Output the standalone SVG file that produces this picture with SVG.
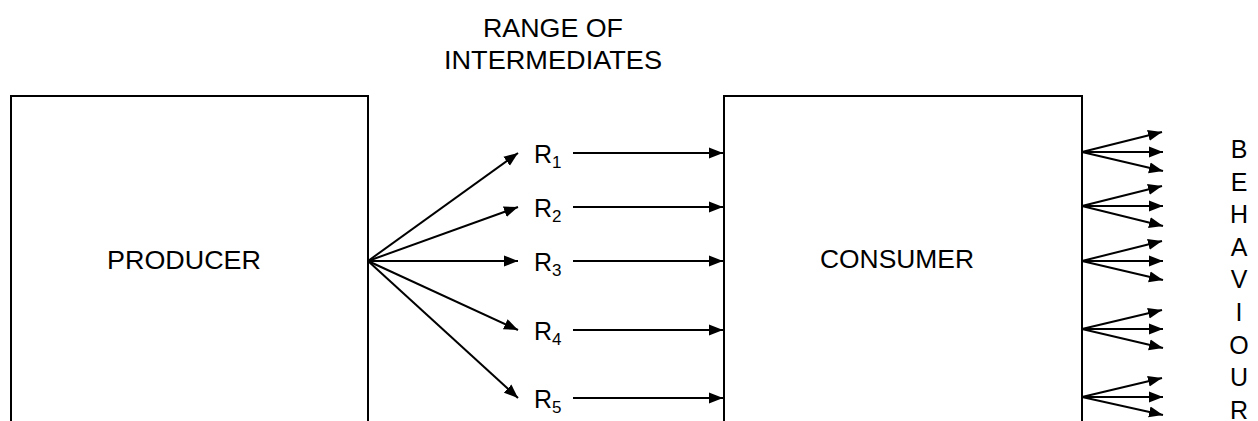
<svg xmlns="http://www.w3.org/2000/svg" width="1258" height="421" viewBox="0 0 1258 421">
<style>
  .box { fill: #fff; stroke: #000; stroke-width: 2; }
  .ln { stroke: #000; stroke-width: 2; fill: none; marker-end: url(#ah); }
  .t { font-family: "Liberation Sans", Arial, sans-serif; fill: #000; }
  .lbl { font-size: 25px; text-anchor: middle; }
  .hdr { font-size: 25px; text-anchor: middle; }
  .r { font-size: 25px; }
  .sub { font-size: 17px; }
  .v { font-size: 25px; text-anchor: middle; }
</style>
<defs>
  <marker id="ah" markerUnits="userSpaceOnUse" markerWidth="15" markerHeight="12" refX="14" refY="6" orient="auto" viewBox="0 0 15 12">
    <path d="M0,0.5 L14,6 L0,11.5 z" fill="#000"/>
  </marker>
</defs>
<rect width="1258" height="421" fill="#fff"/>
<g id="header">
  <text class="t hdr" x="553" y="37" textLength="140" lengthAdjust="spacingAndGlyphs">RANGE OF</text>
  <text class="t hdr" x="553" y="69" textLength="218" lengthAdjust="spacingAndGlyphs">INTERMEDIATES</text>
</g>
<g id="producer">
  <rect class="box" x="11" y="96" width="357" height="340"/>
  <text class="t lbl" x="184" y="269" textLength="154" lengthAdjust="spacingAndGlyphs">PRODUCER</text>
</g>
<g id="consumer">
  <rect class="box" x="724" y="96" width="358" height="340"/>
  <text class="t lbl" x="897" y="268" textLength="154" lengthAdjust="spacingAndGlyphs">CONSUMER</text>
</g>
<g id="intermediates">
  <text class="t r" x="534" y="163">R<tspan class="sub" dy="5">1</tspan></text>
  <text class="t r" x="534" y="217">R<tspan class="sub" dy="5">2</tspan></text>
  <text class="t r" x="534" y="271">R<tspan class="sub" dy="5">3</tspan></text>
  <text class="t r" x="534" y="340">R<tspan class="sub" dy="5">4</tspan></text>
  <text class="t r" x="534" y="408">R<tspan class="sub" dy="5">5</tspan></text>
</g>
<g id="behaviour">
  <text class="t v" x="1239" y="158">B</text>
  <text class="t v" x="1239" y="190.6">E</text>
  <text class="t v" x="1239" y="223.2">H</text>
  <text class="t v" x="1239" y="255.8">A</text>
  <text class="t v" x="1239" y="288.4">V</text>
  <text class="t v" x="1239" y="321">I</text>
  <text class="t v" x="1239" y="353.6">O</text>
  <text class="t v" x="1239" y="386.2">U</text>
  <text class="t v" x="1239" y="418.8">R</text>
</g>
<g id="connectors">
  <line class="ln" x1="368" y1="261" x2="518" y2="153"/>
  <line class="ln" x1="368" y1="261" x2="518" y2="207"/>
  <line class="ln" x1="368" y1="261" x2="518" y2="261"/>
  <line class="ln" x1="368" y1="261" x2="518" y2="330"/>
  <line class="ln" x1="368" y1="261" x2="518" y2="398"/>
  <line class="ln" x1="573" y1="153" x2="723" y2="153"/>
  <line class="ln" x1="573" y1="207" x2="723" y2="207"/>
  <line class="ln" x1="573" y1="261" x2="723" y2="261"/>
  <line class="ln" x1="573" y1="330" x2="723" y2="330"/>
  <line class="ln" x1="573" y1="398" x2="723" y2="398"/>
  <line class="ln" x1="1082" y1="152" x2="1162" y2="132"/>
  <line class="ln" x1="1082" y1="152" x2="1163" y2="152"/>
  <line class="ln" x1="1082" y1="152" x2="1163" y2="171"/>
  <line class="ln" x1="1082" y1="206" x2="1162" y2="186"/>
  <line class="ln" x1="1082" y1="206" x2="1163" y2="206"/>
  <line class="ln" x1="1082" y1="206" x2="1163" y2="226"/>
  <line class="ln" x1="1082" y1="261" x2="1162" y2="241"/>
  <line class="ln" x1="1082" y1="261" x2="1163" y2="261"/>
  <line class="ln" x1="1082" y1="261" x2="1163" y2="280"/>
  <line class="ln" x1="1082" y1="329" x2="1162" y2="310"/>
  <line class="ln" x1="1082" y1="329" x2="1163" y2="329"/>
  <line class="ln" x1="1082" y1="329" x2="1163" y2="348"/>
  <line class="ln" x1="1082" y1="397" x2="1162" y2="378"/>
  <line class="ln" x1="1082" y1="397" x2="1163" y2="397"/>
  <line class="ln" x1="1082" y1="397" x2="1163" y2="415"/>
</g>
</svg>
